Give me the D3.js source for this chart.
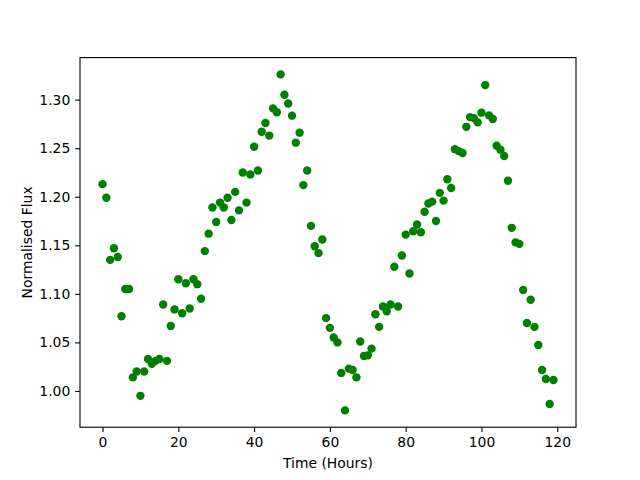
<!DOCTYPE html>
<html>
<head>
<meta charset="utf-8">
<script src="https://cdn.jsdelivr.net/npm/d3@7"></script>
<style>
  body { margin: 0; background: #fff; }
  text { font-family: "DejaVu Sans", sans-serif; }
</style>
</head>
<body>
<div id="chart"></div>
<script>
var width = 640
var height = 480
var margin = { top: 57.6, right: 64, bottom: 52.8, left: 80 }

// time of each observation (hours)
var hours = [
  0, 1, 2, 3, 4, 5, 6, 7, 8, 9, 10, 11, 12, 13, 14, 15, 16, 17, 18, 19,
  20, 21, 22, 23, 24, 25, 26, 27, 28, 29, 30, 31, 32, 33, 34, 35, 36, 37, 38, 39,
  40, 41, 42, 43, 44, 45, 46, 47, 48, 49, 50, 51, 52, 53, 54, 55, 56, 57, 58, 59,
  60, 61, 62, 63, 64, 65, 66, 67, 68, 69, 70, 71, 72, 73, 74, 75, 76, 77, 78, 79,
  80, 81, 82, 83, 84, 85, 86, 87, 88, 89, 90, 91, 92, 93, 94, 95, 96, 97, 98, 99,
  100, 101, 102, 103, 104, 105, 106, 107, 108, 109, 110, 111, 112, 113, 114, 115, 116, 117, 118, 119
]

// normalised flux at each time
var flux = [
  1.213, 1.199, 1.135, 1.147, 1.138, 1.077, 1.105, 1.105, 1.014, 1.020,
  0.995, 1.020, 1.033, 1.028, 1.031, 1.033, 1.089, 1.031, 1.067, 1.084,
  1.115, 1.080, 1.111, 1.085, 1.115, 1.110, 1.095, 1.144, 1.162, 1.189,
  1.174, 1.194, 1.189, 1.199, 1.176, 1.205, 1.186, 1.225, 1.194, 1.223,
  1.2515, 1.227, 1.267, 1.276, 1.263, 1.291, 1.287, 1.326, 1.305, 1.296,
  1.2835, 1.2557, 1.266, 1.212, 1.227, 1.170, 1.149, 1.142, 1.156, 1.075,
  1.065, 1.055, 1.050, 1.0186, 0.980, 1.023, 1.0216, 1.014, 1.051, 1.036,
  1.0367, 1.0436, 1.079, 1.066, 1.087, 1.082, 1.089, 1.128, 1.087, 1.1395,
  1.161, 1.121, 1.1645, 1.1715, 1.1635, 1.1845, 1.193, 1.195, 1.175, 1.204,
  1.196, 1.218, 1.209, 1.249, 1.247, 1.245, 1.272, 1.282, 1.281, 1.2766,
  1.2866, 1.315, 1.2838, 1.280, 1.2526, 1.2485, 1.242, 1.2165, 1.168, 1.153,
  1.1515, 1.104, 1.070, 1.094, 1.066, 1.0474, 1.0216, 1.0124, 0.9866, 1.0113
]

var xTicks = [0, 20, 40, 60, 80, 100, 120]
var yTicks = [1.00, 1.05, 1.10, 1.15, 1.20, 1.25, 1.30]

var data = hours.map((h, i) => ({ t: h, f: flux[i] }))

// pad the domains by 5% like matplotlib does
function padded(ext) {
  var p = (ext[1] - ext[0]) * 0.05
  return [ext[0] - p, ext[1] + p]
}

var svg = d3.select("#chart")
  .append("svg")
  .attr("width", width)
  .attr("height", height)

var xScale = d3.scaleLinear()
  .domain(padded(d3.extent(hours)))
  .range([margin.left, width - margin.right])

var yScale = d3.scaleLinear()
  .domain(padded(d3.extent(flux)))
  .range([height - margin.bottom, margin.top])

var xAxis = d3.axisBottom(xScale)
  .tickValues(xTicks)
  .tickSize(4.86)
  .tickPadding(4.9)
  .tickFormat(d3.format("d"))

var yAxis = d3.axisLeft(yScale)
  .tickValues(yTicks)
  .tickSize(4.86)
  .tickPadding(4.9)
  .tickFormat(d3.format(".2f"))

// points
svg.append("g")
  .attr("class", "points")
  .selectAll("circle")
  .data(data)
  .enter()
  .append("circle")
  .attr("cx", d => xScale(d.t))
  .attr("cy", d => yScale(d.f))
  .attr("r", 4.2)
  .style("fill", "#008000")

// frame
svg.append("rect")
  .attr("x", margin.left)
  .attr("y", margin.top)
  .attr("width", width - margin.left - margin.right)
  .attr("height", height - margin.top - margin.bottom)
  .attr("fill", "none")
  .attr("stroke", "black")
  .attr("stroke-width", 1.1)

svg.append("g")
  .attr("transform", `translate(0,${height - margin.bottom})`)
  .attr("class", "x-axis")
  .call(xAxis)
  .call(g => g.select(".domain").remove())
  .call(g => g.selectAll(".tick line").attr("stroke-width", 1.1))
  .selectAll("text")
  .style("font-size", "13.9px")
  .style("fill", "black")

svg.append("g")
  .attr("transform", `translate(${margin.left},0)`)
  .attr("class", "y-axis")
  .call(yAxis)
  .call(g => g.select(".domain").remove())
  .call(g => g.selectAll(".tick line").attr("stroke-width", 1.1))
  .selectAll("text")
  .style("font-size", "13.9px")
  .style("fill", "black")

svg.append("text")
  .attr("class", "x-label")
  .attr("text-anchor", "middle")
  .attr("x", (margin.left + width - margin.right) / 2)
  .attr("y", 468)
  .style("font-size", "13.9px")
  .text("Time (Hours)")

svg.append("text")
  .attr("class", "y-label")
  .attr("text-anchor", "middle")
  .attr("transform", `translate(32,${(margin.top + height - margin.bottom) / 2}) rotate(-90)`)
  .style("font-size", "13.9px")
  .text("Normalised Flux")
</script>
</body>
</html>
